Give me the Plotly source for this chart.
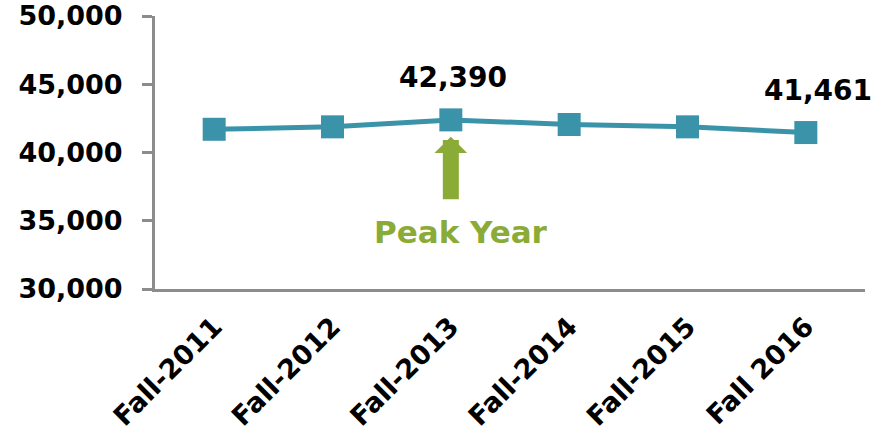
import plotly.graph_objects as go

categories = ["Fall-2011", "Fall-2012", "Fall-2013", "Fall-2014", "Fall-2015", "Fall 2016"]
enrollment = [41700, 41880, 42390, 42050, 41880, 41461]
y_ticks = [30000, 35000, 40000, 45000, 50000]
y_tick_text = ["30,000", "35,000", "40,000", "45,000", "50,000"]

TEAL = "#3b93a9"
GREEN = "#8aab36"
AXIS = "#8c8c8c"
FONT = "DejaVu Sans"

fig = go.Figure()
fig.add_trace(go.Scatter(
    x=categories, y=enrollment, mode="lines+markers",
    line=dict(color=TEAL, width=5),
    marker=dict(symbol="square", size=23, color=TEAL),
    hoverinfo="skip", showlegend=False,
))

# value labels
for idx, xs in ((2, 2), (5, 12)):
    fig.add_annotation(
        x=categories[idx], y=enrollment[idx], text=f"{enrollment[idx]:,}",
        showarrow=False, yshift=42, xshift=xs,
        font=dict(family=FONT, size=28, color="black", weight="bold"),
    )

# Peak Year arrow
peak = enrollment.index(max(enrollment))
fig.add_annotation(
    x=categories[peak], y=41150, ax=0, ay=64, text="",
    showarrow=True, arrowhead=1, arrowwidth=16, arrowsize=0.34,
    arrowcolor=GREEN,
)
fig.add_annotation(
    x=categories[peak], y=34200, text="Peak Year", showarrow=False, xshift=10,
    font=dict(family=FONT, size=31, color=GREEN, weight="bold"),
)

fig.update_layout(
    width=885, height=435,
    margin=dict(l=155, r=20, t=16, b=146),
    paper_bgcolor="white", plot_bgcolor="white",
    font=dict(family=FONT, size=26, color="black", weight="bold"),
    xaxis=dict(
        type="category", range=[-0.5, 5.5], showgrid=False, automargin=False,
        showline=True, linecolor=AXIS, linewidth=3,
        ticks="", tickangle=-45, ticklabelstandoff=8,
        tickfont=dict(family=FONT, size=27, color="black", weight="bold"),
        zeroline=False,
    ),
    yaxis=dict(
        range=[30000, 50000], tickvals=y_ticks, ticktext=y_tick_text,
        showgrid=False, zeroline=False, automargin=False,
        showline=True, linecolor=AXIS, linewidth=3,
        ticks="outside", ticklen=10, tickwidth=3, tickcolor=AXIS,
        ticklabelstandoff=14,
        tickfont=dict(family=FONT, size=27, color="black", weight="bold"),
    ),
)

fig.write_html("out.html", config={"displayModeBar": False},
               post_script="document.body.style.margin='0';")
